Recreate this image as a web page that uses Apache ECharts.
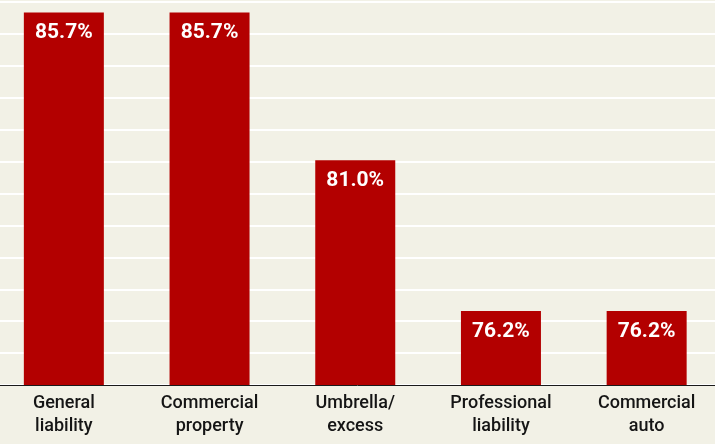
<!DOCTYPE html>
<html>
<head>
<meta charset="utf-8">
<script src="https://cdn.jsdelivr.net/npm/echarts@6/dist/echarts.min.js"></script>
<style>
  html, body { margin: 0; padding: 0; background: #f2f1e6; }
  #chart { width: 715px; height: 444px; }
</style>
</head>
<body>
<div id="chart"></div>
<script>
// Share of respondents by line of coverage
const categories = ['General\nliability', 'Commercial\nproperty', 'Umbrella/\nexcess', 'Professional\nliability', 'Commercial\nauto'];
const values = [85.7, 85.7, 81.0, 76.2, 76.2];

const chart = echarts.init(document.getElementById('chart'));
chart.setOption({
  backgroundColor: '#f2f1e6',
  animation: false,
  grid: { left: -9, top: 2, width: 728.5, height: 383, outerBoundsMode: 'none', containLabel: false },
  xAxis: {
    type: 'category',
    data: categories,
    axisLine: { lineStyle: { color: '#1a1a1a', width: 1 } },
    axisTick: { show: false },
    axisLabel: {
      interval: 0,
      color: '#151515',
      fontFamily: 'Roboto, sans-serif',
      fontWeight: 500,
      fontSize: 18,
      lineHeight: 23,
      margin: 7
    }
  },
  yAxis: [
    {
      // background rules
      type: 'value', min: 0, max: 12, interval: 1,
      axisLine: { show: false }, axisTick: { show: false }, axisLabel: { show: false },
      splitLine: { lineStyle: { color: '#ffffff', width: 2 } }
    },
    {
      // value scale for the bars
      type: 'value', min: 73.845, max: 86.035,
      axisLine: { show: false }, axisTick: { show: false }, axisLabel: { show: false },
      splitLine: { show: false }
    }
  ],
  series: [{
    type: 'bar',
    yAxisIndex: 1,
    data: values,
    barWidth: 80,
    itemStyle: { color: '#b30000' },
    label: {
      show: true,
      position: 'insideTop',
      distance: 10,
      color: '#ffffff',
      fontFamily: 'Roboto, sans-serif',
      fontWeight: 'bold',
      fontSize: 21,
      formatter: p => p.value.toFixed(1) + '%'
    }
  }]
});
</script>
</body>
</html>
